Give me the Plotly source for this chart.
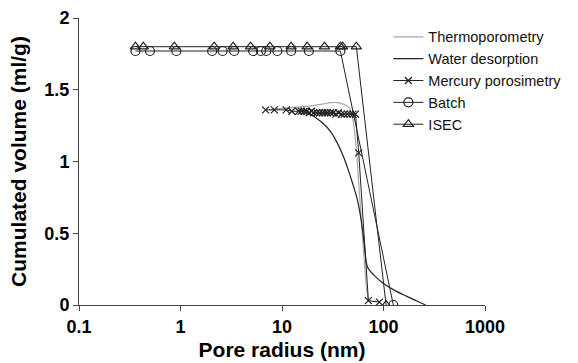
import plotly.graph_objects as go

# ---- data ----
thermo_x = [7.5, 10, 15, 20, 25, 30, 35, 40, 45, 49, 53, 57, 60, 64, 68, 71]
thermo_y = [1.36, 1.37, 1.38, 1.39, 1.40, 1.41, 1.41, 1.40, 1.38, 1.32, 1.15, 0.85, 0.62, 0.35, 0.12, 0.02]

water_x = [15, 18, 21, 25, 30, 35, 40, 45, 50, 55, 60, 64, 67, 70, 80, 100, 130, 170, 210, 260]
water_y = [1.35, 1.34, 1.31, 1.27, 1.21, 1.13, 1.04, 0.94, 0.84, 0.74, 0.60, 0.45, 0.32, 0.26, 0.21, 0.15, 0.10, 0.06, 0.03, 0.0]

mercury_x = [6.9, 8.4, 11, 12.5, 14.6, 15.5, 16.5, 17.5, 18.5, 19.5, 20.5, 22, 23.5, 25, 26.5,
             28, 30, 32, 34, 36, 38.5, 41, 44, 47, 50, 53, 57, 71, 91]
mercury_y = [1.36, 1.36, 1.36, 1.35, 1.35, 1.35, 1.35, 1.35, 1.34, 1.35, 1.34, 1.34, 1.34, 1.34, 1.34,
             1.34, 1.34, 1.34, 1.33, 1.34, 1.33, 1.33, 1.33, 1.33, 1.33, 1.33, 1.06, 0.03, 0.02]

batch_x = [0.36, 0.50, 0.91, 2.05, 2.6, 3.38, 5.2, 6.2, 7.0, 9.0, 12.3, 18.4, 37.6, 125]
batch_y = [1.77, 1.77, 1.77, 1.77, 1.77, 1.77, 1.77, 1.77, 1.77, 1.77, 1.77, 1.77, 1.77, 0.0]

isec_x = [0.36, 0.43, 0.87, 2.15, 3.3, 4.9, 7.6, 12.3, 17.7, 26.2, 37.6, 39.6, 54, 106]
isec_y = [1.80, 1.80, 1.80, 1.80, 1.80, 1.80, 1.80, 1.80, 1.80, 1.80, 1.80, 1.80, 1.80, 0.0]

x_ticks = [0.1, 1, 10, 100, 1000]
x_ticktext = ["0.1", "1", "10", "100", "1000"]
y_ticks = [0, 0.5, 1, 1.5, 2]
y_ticktext = ["0", "0.5", "1", "1.5", "2"]

FONT = "Liberation Sans, Arial, sans-serif"

fig = go.Figure()
fig.add_trace(go.Scatter(x=thermo_x, y=thermo_y, mode="lines", name="Thermoporometry",
                         line=dict(color="#a8a8a8", width=1.2, shape="spline")))
fig.add_trace(go.Scatter(x=water_x, y=water_y, mode="lines", name="Water desorption",
                         line=dict(color="#222222", width=1.2, shape="spline")))
fig.add_trace(go.Scatter(x=mercury_x, y=mercury_y, mode="lines+markers", name="Mercury porosimetry",
                         line=dict(color="#222222", width=1),
                         marker=dict(symbol="x-thin", size=7, color="#222222",
                                     line=dict(color="#222222", width=1.2))))
fig.add_trace(go.Scatter(x=batch_x, y=batch_y, mode="lines+markers", name="Batch",
                         line=dict(color="#222222", width=1),
                         marker=dict(symbol="circle-open", size=9, color="#222222",
                                     line=dict(width=1.2))))
fig.add_trace(go.Scatter(x=isec_x, y=isec_y, mode="lines+markers", name="ISEC",
                         line=dict(color="#222222", width=1),
                         marker=dict(symbol="triangle-up-open", size=9, color="#222222",
                                     line=dict(width=1.2))))

fig.update_layout(
    width=578, height=363,
    margin=dict(l=79, r=91, t=18, b=58),
    paper_bgcolor="white", plot_bgcolor="white",
    font=dict(family=FONT, color="black"),
    showlegend=True,
    legend=dict(x=0.762, y=0.99, xanchor="left", yanchor="top",
                font=dict(size=14.5, color="#111"), bgcolor="rgba(0,0,0,0)",
                itemwidth=30, tracegroupgap=0, borderwidth=0),
)
fig.update_xaxes(
    type="log", range=[-1, 3], automargin=False,
    tickvals=x_ticks, ticktext=x_ticktext,
    showline=True, linecolor="#444", linewidth=1,
    ticks="outside", ticklen=5, tickcolor="#444",
    showgrid=False, zeroline=False,
    tickfont=dict(size=18, family=FONT, weight="bold"),
    title=dict(text="<b>Pore radius (nm)</b>", font=dict(size=21), standoff=6),
)
fig.update_yaxes(
    range=[0, 2], automargin=False,
    tickvals=y_ticks, ticktext=y_ticktext,
    showline=True, linecolor="#444", linewidth=1,
    ticks="outside", ticklen=5, tickcolor="#444",
    showgrid=False, zeroline=False,
    tickfont=dict(size=18, family=FONT, weight="bold"),
    title=dict(text="<b>Cumulated volume (ml/g)</b>", font=dict(size=21), standoff=12),
)

fig.write_html("out.html")
